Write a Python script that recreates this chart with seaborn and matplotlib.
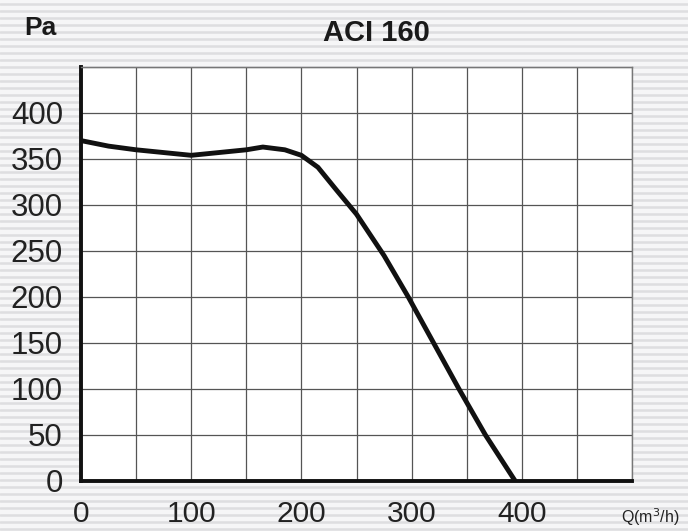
import numpy as np
import matplotlib
matplotlib.use("Agg")
import matplotlib.pyplot as plt
import seaborn as sns
import pandas as pd

# Fan curve ACI 160: airflow Q (m3/h) vs static pressure (Pa)
flow = [0, 25, 50, 75, 100, 125, 150, 165, 185, 200, 215, 232, 250, 275, 297, 320, 343, 367, 394]
pressure = [370, 364, 360, 357, 354, 357, 360, 363, 360, 354, 341, 316, 290, 245, 200, 150, 100, 50, 0]

x_ticks = [0, 100, 200, 300, 400]
y_ticks = [0, 50, 100, 150, 200, 250, 300, 350, 400]

df = pd.DataFrame({"Q": flow, "Pa": pressure})

sns.set_style("white")
plt.rcParams["font.family"] = ["Liberation Sans", "DejaVu Sans"]

fig = plt.figure(figsize=(6.88, 5.31), dpi=100)
fig.patch.set_facecolor("#f6f6f7")

# striped background
bg = fig.add_axes([0, 0, 1, 1], zorder=-10)
bg.set_xlim(0, 1)
bg.set_ylim(0, 531)
for yy in np.arange(2, 531, 7):
    bg.axhline(yy, color="#dedee0", lw=1.8)
bg.set_facecolor("#f7f7f8")
bg.axis("off")

ax = fig.add_axes([81 / 688, 1 - 481 / 531, (632 - 81) / 688, (481 - 67) / 531])
ax.set_facecolor("white")

sns.lineplot(data=df, x="Q", y="Pa", ax=ax, color="#111111", lw=3.5, sort=False)

ax.set_xlim(0, 500)
ax.set_ylim(0, 450)
ax.set_xticks(np.arange(0, 501, 50))
ax.set_yticks(np.arange(0, 451, 50))
ax.grid(True, color="#555555", lw=0.9)
ax.set_axisbelow(True)

ax.set_xticklabels([str(v) if v in x_ticks else "" for v in np.arange(0, 501, 50)])
ax.set_yticklabels([str(v) if v in y_ticks else "" for v in np.arange(0, 451, 50)])
ax.tick_params(axis="both", direction="in", length=4, width=3.5, color="#111111",
               labelsize=22.5, labelcolor="#222222")
ax.tick_params(axis="x", pad=14, labelsize=21.5)
ax.tick_params(axis="y", pad=13)

for s in ["left", "bottom"]:
    ax.spines[s].set_color("#111111")
    ax.spines[s].set_linewidth(2.8)
for s in ["top", "right"]:
    ax.spines[s].set_color("#777777")
    ax.spines[s].set_linewidth(1.0)

ax.set_xlabel("")
ax.set_ylabel("")

fig.text(40 / 688, 1 - 28 / 531, "Pa", fontsize=19, fontweight="bold", ha="center", va="center", color="#1a1a1a")
fig.text(376 / 688, 1 - 33 / 531, "ACI 160", fontsize=21, fontweight="bold", ha="center", va="center", color="#1a1a1a")
fig.text(650 / 688, 1 - 517 / 531, r"Q(m$^{3}$/h)", fontsize=11.5, ha="center", va="center", color="#222222")

fig.savefig("out.png", dpi=100)
